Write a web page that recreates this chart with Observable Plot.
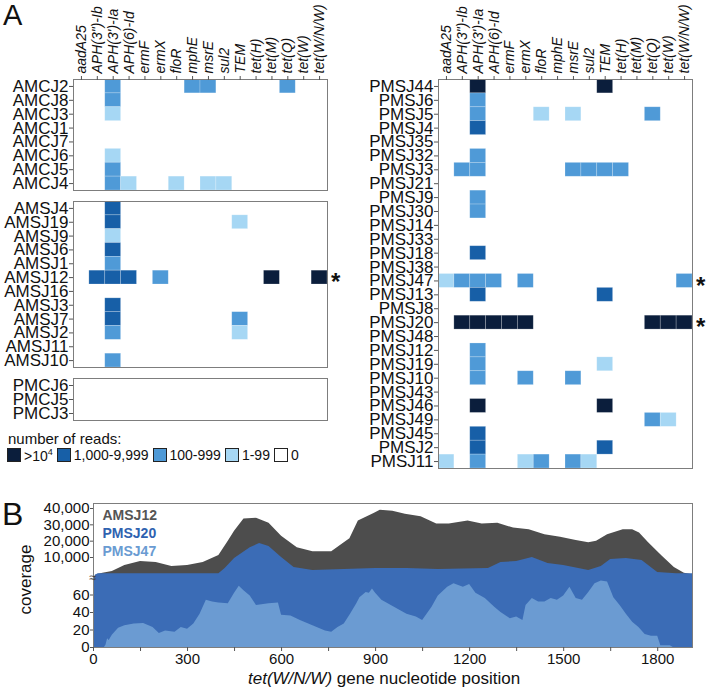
<!DOCTYPE html>
<html><head><meta charset="utf-8">
<script src="https://cdn.jsdelivr.net/npm/d3@7"></script>
<script src="https://cdn.jsdelivr.net/npm/@observablehq/plot@0.6"></script>
<style>
body{margin:0;background:#fff;font-family:"Liberation Sans",Arial,Helvetica,sans-serif;color:#111;}
#root{position:relative;width:706px;height:689px;overflow:hidden;background:#fff;}
.abs{position:absolute;line-height:1;white-space:nowrap;}
</style></head>
<body><div id="root"></div>
<script>
// ---------- DATA ----------
const genes = ["aadA25", 'APH(3")-Ib', "APH(3')-Ia", "APH(6)-Id", "ermF", "ermX", "floR", "mphE", "msrE", "sul2", "TEM", "tet(H)", "tet(M)", "tet(Q)", "tet(W)", "tet(W/N/W)"];
const levelNames = [">10⁴", "1,000-9,999", "100-999", "1-99", "0"];
const levelColors = ["#0b1e3c", "#175fa7", "#4f9ad7", "#a6d7f4", "#ffffff"];
const [X, H, M, L] = levelNames;

const amcjRows = ["AMCJ2", "AMCJ8", "AMCJ3", "AMCJ1", "AMCJ7", "AMCJ6", "AMCJ5", "AMCJ4"];
const amsjRows = ["AMSJ4", "AMSJ19", "AMSJ9", "AMSJ6", "AMSJ1", "AMSJ12", "AMSJ16", "AMSJ3", "AMSJ7", "AMSJ2", "AMSJ11", "AMSJ10"];
const pmcjRows = ["PMCJ6", "PMCJ5", "PMCJ3"];
const pmsjRows = ["PMSJ44", "PMSJ6", "PMSJ5", "PMSJ4", "PMSJ35", "PMSJ32", "PMSJ3", "PMSJ21", "PMSJ9", "PMSJ30", "PMSJ14", "PMSJ33", "PMSJ18", "PMSJ38", "PMSJ47", "PMSJ13", "PMSJ8", "PMSJ20", "PMSJ48", "PMSJ12", "PMSJ19", "PMSJ10", "PMSJ43", "PMSJ46", "PMSJ49", "PMSJ45", "PMSJ2", "PMSJ11"];

const amcjCells = [
  ["AMCJ2", "APH(3')-Ia", M], ["AMCJ2", "mphE", M], ["AMCJ2", "msrE", M], ["AMCJ2", "tet(Q)", M],
  ["AMCJ8", "APH(3')-Ia", M],
  ["AMCJ3", "APH(3')-Ia", L],
  ["AMCJ6", "APH(3')-Ia", L],
  ["AMCJ5", "APH(3')-Ia", M],
  ["AMCJ4", "APH(3')-Ia", M], ["AMCJ4", "APH(6)-Id", L], ["AMCJ4", "floR", L], ["AMCJ4", "msrE", L], ["AMCJ4", "sul2", L]
];
const amsjCells = [
  ["AMSJ4", "APH(3')-Ia", H],
  ["AMSJ19", "APH(3')-Ia", H], ["AMSJ19", "TEM", L],
  ["AMSJ9", "APH(3')-Ia", L],
  ["AMSJ6", "APH(3')-Ia", H],
  ["AMSJ1", "APH(3')-Ia", M],
  ["AMSJ12", 'APH(3")-Ib', H], ["AMSJ12", "APH(3')-Ia", H], ["AMSJ12", "APH(6)-Id", H], ["AMSJ12", "ermX", M], ["AMSJ12", "tet(M)", X], ["AMSJ12", "tet(W/N/W)", X],
  ["AMSJ3", "APH(3')-Ia", H],
  ["AMSJ7", "APH(3')-Ia", H], ["AMSJ7", "TEM", M],
  ["AMSJ2", "APH(3')-Ia", M], ["AMSJ2", "TEM", L],
  ["AMSJ10", "APH(3')-Ia", M]
];
const pmcjCells = [];
const pmsjCells = [
  ["PMSJ44", "APH(3')-Ia", X], ["PMSJ44", "TEM", X],
  ["PMSJ6", "APH(3')-Ia", M],
  ["PMSJ5", "APH(3')-Ia", M], ["PMSJ5", "floR", L], ["PMSJ5", "msrE", L], ["PMSJ5", "tet(Q)", M],
  ["PMSJ4", "APH(3')-Ia", H],
  ["PMSJ32", "APH(3')-Ia", M],
  ["PMSJ3", 'APH(3")-Ib', M], ["PMSJ3", "APH(3')-Ia", M], ["PMSJ3", "msrE", M], ["PMSJ3", "sul2", M], ["PMSJ3", "TEM", M], ["PMSJ3", "tet(H)", M],
  ["PMSJ9", "APH(3')-Ia", M],
  ["PMSJ30", "APH(3')-Ia", M],
  ["PMSJ18", "APH(3')-Ia", H],
  ["PMSJ47", "aadA25", L], ["PMSJ47", 'APH(3")-Ib', M], ["PMSJ47", "APH(3')-Ia", M], ["PMSJ47", "APH(6)-Id", M], ["PMSJ47", "ermX", M], ["PMSJ47", "tet(W/N/W)", M],
  ["PMSJ13", "APH(3')-Ia", H], ["PMSJ13", "TEM", H],
  ["PMSJ20", 'APH(3")-Ib', X], ["PMSJ20", "APH(3')-Ia", X], ["PMSJ20", "APH(6)-Id", X], ["PMSJ20", "ermF", X], ["PMSJ20", "ermX", X], ["PMSJ20", "tet(Q)", X], ["PMSJ20", "tet(W)", X], ["PMSJ20", "tet(W/N/W)", X],
  ["PMSJ12", "APH(3')-Ia", M],
  ["PMSJ19", "APH(3')-Ia", M], ["PMSJ19", "TEM", L],
  ["PMSJ10", "APH(3')-Ia", M], ["PMSJ10", "ermX", M], ["PMSJ10", "msrE", M],
  ["PMSJ46", "APH(3')-Ia", X], ["PMSJ46", "TEM", X],
  ["PMSJ49", "tet(Q)", M], ["PMSJ49", "tet(W)", L],
  ["PMSJ45", "APH(3')-Ia", H],
  ["PMSJ2", "APH(3')-Ia", H], ["PMSJ2", "TEM", H],
  ["PMSJ11", "aadA25", L], ["PMSJ11", "APH(3')-Ia", M], ["PMSJ11", "ermX", L], ["PMSJ11", "floR", M], ["PMSJ11", "msrE", M], ["PMSJ11", "sul2", L]
];
const leftStars = ["AMSJ12"];
const rightStars = ["PMSJ47", "PMSJ20"];

// Panel B: coverage along tet(W/N/W)
const geneLength = 1911;
const yBreak = 80;
const seriesNames = ["AMSJ12", "PMSJ20", "PMSJ47"];
const seriesColors = ["#4d4d4d", "#3b6cb6", "#6b9bd2"];
const seriesLabelColors = ["#555555", "#2f62b0", "#6a9bd2"];
const amsj12Pos = [0, 10, 30, 60, 100, 150, 200, 250, 300, 350, 400, 430, 450, 480, 520, 560, 600, 650, 700, 760, 800, 818, 845, 895, 915, 955, 995, 1045, 1095, 1135, 1195, 1240, 1290, 1340, 1390, 1440, 1490, 1540, 1580, 1605, 1640, 1690, 1720, 1742, 1771, 1813, 1853, 1885, 1911];
const amsj12Cov = [80, 1500, 2200, 3000, 6000, 8000, 7500, 5500, 6000, 7500, 11200, 20000, 26000, 33500, 34000, 31000, 23000, 16000, 13500, 13500, 19000, 21500, 32400, 37000, 39000, 38300, 36500, 35000, 30500, 30500, 32400, 30500, 31000, 28000, 27000, 24000, 22400, 20400, 19000, 20000, 24000, 27000, 27000, 25000, 19000, 11000, 5000, 2200, 1500];
const pmsj20Pos = [0, 6, 15, 30, 100, 200, 300, 400, 420, 450, 500, 530, 560, 600, 640, 700, 800, 900, 1000, 1100, 1260, 1300, 1350, 1400, 1450, 1500, 1580, 1620, 1650, 1700, 1750, 1800, 1860, 1911];
const pmsj20Cov = [67, 1200, 1900, 2000, 2000, 2000, 2000, 2000, 4500, 9500, 16000, 18500, 16700, 10000, 5000, 3500, 4000, 4500, 4500, 4000, 4500, 7500, 8000, 10000, 7000, 6000, 3500, 5500, 9000, 9500, 8500, 2500, 2000, 2000];
const pmsj47Pos = [0, 35, 40, 45, 50, 60, 80, 100, 130, 160, 190, 210, 230, 260, 280, 300, 320, 340, 360, 380, 400, 430, 450, 465, 480, 500, 520, 560, 590, 600, 630, 660, 700, 740, 760, 780, 800, 820, 840, 850, 870, 880, 890, 900, 920, 950, 980, 1000, 1030, 1050, 1080, 1100, 1130, 1150, 1180, 1200, 1220, 1250, 1280, 1300, 1330, 1350, 1370, 1380, 1400, 1420, 1440, 1460, 1480, 1500, 1520, 1540, 1560, 1580, 1600, 1620, 1640, 1660, 1680, 1700, 1720, 1740, 1760, 1780, 1800, 1810, 1840, 1850, 1911];
const pmsj47Cov = [0, 0, 3, 10, 8, 14, 22, 25, 27, 27.5, 23, 16, 19, 17.5, 23, 21, 27, 38, 54, 52, 51, 50, 62, 70, 65, 59, 48, 50, 51, 37, 36, 31, 25, 19, 17.5, 23, 27, 38, 50, 57, 63, 62, 67, 62, 54, 48, 42, 38, 35, 31, 46, 59, 69, 73, 69, 72, 62, 56, 46, 40, 33, 35, 31, 48, 56, 52, 52, 56, 54, 59, 69, 56, 54, 63, 73, 76, 75, 57, 48, 38, 29, 23, 15, 13, 13, 2, 2, 0, 0];
const xTicks = [0, 150, 300, 450, 600, 750, 900, 1050, 1200, 1350, 1500, 1650, 1800];
const yTicks = [0, 20, 40, 60, 10000, 20000, 30000, 40000];

// ---------- DRAW ----------
const root = document.getElementById("root");
const FONT = '"Liberation Sans", Arial, Helvetica, sans-serif';
const baseStyle = {fontFamily: FONT, fontSize: "14px", color: "#111", background: "transparent", overflow: "visible", maxWidth: "none"};

function place(el, left, top, w, h) {
  el.style.position = "absolute";
  el.style.left = left + "px";
  el.style.top = top + "px";
  if (w) { el.style.width = w + "px"; el.style.maxWidth = "none"; }
  if (h) { el.style.height = h + "px"; }
  root.appendChild(el);
}
function div(html, left, top, css) {
  const d = document.createElement("div");
  d.className = "abs";
  d.innerHTML = html;
  d.style.cssText += css || "";
  place(d, left, top);
  return d;
}

function heatmap(rows, cells, o) {
  const marks = [
    Plot.cell(cells, {x: d => d[1], y: d => d[0], fill: d => d[2], stroke: "#ffffff", strokeOpacity: 0.3, strokeWidth: 0.7}),
    Plot.frame({stroke: "#7d7d7d", strokeWidth: 1}),
    Plot.axisY({tickSize: 4, tickPadding: 1, fontSize: 17, stroke: "#555", label: null})
  ];
  if (o.header) {
    marks.push(Plot.axisX({anchor: "top", tickSize: 4, stroke: "#555", tickFormat: () => "", label: null}));
    marks.push(Plot.text(genes, {x: d => d, frameAnchor: "top", rotate: -90, textAnchor: "start", lineAnchor: "middle", dy: -6, fontSize: 14, fontStyle: "italic", fill: "#111"}));
  }
  if (o.stars) {
    marks.push(Plot.text(o.stars, {x: () => genes[genes.length - 1], y: d => d, text: () => "*", dx: 16, dy: 5, fontSize: 24, fontWeight: "bold", fill: "#111"}));
  }
  return Plot.plot({
    width: o.width, height: o.height,
    marginLeft: o.ml, marginRight: o.mr, marginTop: o.mt, marginBottom: o.mb,
    x: {domain: genes, padding: 0, round: false, axis: null},
    y: {domain: rows, padding: 0, round: false, axis: null},
    color: {domain: levelNames, range: levelColors},
    style: baseStyle,
    marks
  });
}

const hm = [
  [heatmap(amcjRows, amcjCells, {header: true, width: 342, height: 195, ml: 73, mr: 15, mt: 79, mb: 5}), 0, 0, 342, 195],
  [heatmap(amsjRows, amsjCells, {stars: leftStars, width: 342, height: 177, ml: 73, mr: 15, mt: 6, mb: 5}), 0, 195, 342, 177],
  [heatmap(pmcjRows, pmcjCells, {width: 342, height: 53, ml: 73, mr: 15, mt: 6, mb: 5}), 0, 372, 342, 53],
  [heatmap(pmsjRows, pmsjCells, {header: true, stars: rightStars, width: 346, height: 473, ml: 78, mr: 14, mt: 79, mb: 5}), 360, 0, 346, 473]
];
hm.forEach(([el, l, t, w, h]) => place(el, l, t, w, h));

// legend (from levelNames / levelColors)
div("number of reads:", 8, 431, "font-size:15px;");
const leg = document.createElement("div");
leg.className = "abs";
leg.style.cssText += "display:flex;align-items:center;font-size:14px;height:14px;";
levelNames.forEach((name, i) => {
  const sw = document.createElement("span");
  sw.style.cssText = `display:inline-block;width:12px;height:12px;border:1px solid #222;background:${levelColors[i]};margin-right:3px;`;
  const lb = document.createElement("span");
  lb.innerHTML = name === ">10⁴" ? "&gt;10<sup style='font-size:9px;vertical-align:6px'>4</sup>" : name;
  lb.style.cssText = "margin-right:4px;";
  leg.appendChild(sw); leg.appendChild(lb);
});
place(leg, 7, 448);

// panel labels
div("A", 3, 1, "font-size:29px;");
div("B", 2, 498, "font-size:32px;");

// Panel B
const toRows = (pos, cov) => pos.map((p, i) => ({pos: p, cov: cov[i]}));
const series = [toRows(amsj12Pos, amsj12Cov), toRows(pmsj20Pos, pmsj20Cov), toRows(pmsj47Pos, pmsj47Cov)];
const cov = Plot.plot({
  width: 706, height: 209,
  marginLeft: 93, marginRight: 14, marginTop: 23, marginBottom: 42,
  x: {domain: [0, geneLength], axis: null},
  y: {type: "linear", domain: [0, yBreak, 10000, 40000], range: [167, 97, 77, 28], axis: null},
  style: baseStyle,
  marks: [
    ...series.map((s, i) => Plot.areaY(s, {x: "pos", y1: 0, y2: "cov", fill: seriesColors[i]})),
    Plot.frame({stroke: "#7d7d7d", strokeWidth: 1}),
    Plot.axisX(xTicks, {tickSize: 4, tickPadding: 2, stroke: "#555", fontSize: 15, tickFormat: d => d % 300 === 0 ? String(d) : "", label: null}),
    Plot.axisY(yTicks, {tickSize: 3, tickPadding: 1, stroke: "#555", fontSize: 15, tickFormat: d3.format(","), label: null}),
    Plot.text([yBreak], {y: d => d, frameAnchor: "left", textAnchor: "middle", text: () => "≈", fontSize: 13, dx: -1, fill: "#444"}),
    Plot.text(["coverage"], {frameAnchor: "left", textAnchor: "middle", rotate: -90, dx: -68, dy: 4, fontSize: 17, fill: "#111"}),
    ...seriesNames.map((name, i) => Plot.text([name], {frameAnchor: "top-left", dx: 9, dy: 12 + i * 18, textAnchor: "start", lineAnchor: "middle", fontSize: 14, fontWeight: "bold", fill: seriesLabelColors[i]}))
  ]
});
place(cov, 0, 480, 706, 209);
div("<i>tet(W/N/W)</i> gene nucleotide position", 248, 670, "font-size:17px;");
</script>
</body></html>
